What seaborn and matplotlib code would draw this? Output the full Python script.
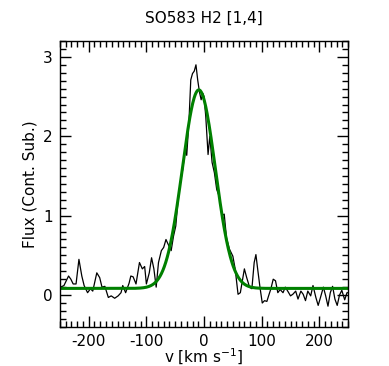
import numpy as np
import pandas as pd
import matplotlib
matplotlib.use("Agg")
import matplotlib.pyplot as plt
import seaborn as sns
from matplotlib.ticker import MultipleLocator

# Spectre (vitesse en km/s, flux soustrait du continu)
velocity = [-255, -249, -243, -235, -231, -227, -222, -217, -212, -208, -202, -197, -193,
            -186, -181, -177, -172, -166, -161, -155, -149, -144, -141, -136, -130, -127,
            -123, -118, -112, -107, -103, -100, -95, -91, -87, -83, -79, -74, -70, -66,
            -61, -57, -53, -49, -46, -42, -37, -32, -30, -26, -23, -20, -17, -14, -11,
            -8, -5, -2, 0, 3, 7, 10, 14, 18, 22, 27, 31, 35, 39, 44, 50, 54, 59, 63, 66,
            70, 74, 79, 83, 87, 90, 93, 97, 101, 105, 109, 112, 116, 120, 124, 128, 132,
            137, 141, 146, 150, 154, 159, 163, 168, 172, 176, 180, 185, 189, 194, 198,
            202, 207, 211, 215, 219, 223, 227, 231, 235, 239, 244, 248, 255]
flux = [0.10, 0.10, 0.12, 0.24, 0.20, 0.14, 0.14, 0.45, 0.24, 0.12, 0.03, 0.08, 0.05,
        0.28, 0.22, 0.10, 0.11, -0.03, -0.01, -0.04, -0.01, 0.03, 0.12, 0.03, 0.15, 0.24,
        0.23, 0.14, 0.41, 0.33, 0.36, 0.14, 0.28, 0.47, 0.33, 0.10, 0.41, 0.56, 0.60,
        0.70, 0.62, 0.56, 0.74, 0.87, 1.12, 1.37, 1.58, 1.87, 1.76, 2.21, 2.71, 2.79,
        2.82, 2.90, 2.71, 2.56, 2.46, 2.54, 2.50, 2.25, 1.77, 2.00, 1.67, 1.54, 1.33,
        1.23, 1.00, 1.02, 0.72, 0.58, 0.49, 0.33, 0.01, 0.03, 0.16, 0.33, 0.22, 0.10,
        0.08, 0.41, 0.51, 0.33, 0.10, -0.10, -0.07, -0.08, -0.01, 0.08, 0.20, 0.18,
        0.03, 0.07, 0.03, 0.10, 0.04, -0.01, 0.01, 0.05, -0.05, 0.05, 0.01, -0.07,
        0.05, -0.01, 0.12, -0.03, -0.13, -0.03, 0.10, -0.01, -0.14, 0.03, 0.11, -0.05,
        -0.13, 0.00, 0.06, -0.06, 0.03, 0.03]

fit_amplitude = 2.50
fit_center = -9.0
fit_sigma = 28.5
fit_baseline = 0.084

df_spec = pd.DataFrame({"v": velocity, "flux": flux})
v_fit = np.linspace(-250, 250, 600)
df_fit = pd.DataFrame({
    "v": v_fit,
    "flux": fit_baseline + fit_amplitude * np.exp(-0.5 * ((v_fit - fit_center) / fit_sigma) ** 2),
})

sns.set_style("white")
plt.rcParams["font.family"] = ["DejaVu Sans"]
plt.rcParams["axes.unicode_minus"] = False
plt.rcParams["text.color"] = "black"
plt.rcParams["axes.labelcolor"] = "black"

fig = plt.figure(figsize=(3.89, 3.66), dpi=100)
ax = fig.add_axes([0.154, 0.107, 0.741, 0.781])

sns.lineplot(data=df_spec, x="v", y="flux", color="black", linewidth=0.9, ax=ax)
sns.lineplot(data=df_fit, x="v", y="flux", color="#008000", linewidth=2.2, ax=ax)

ax.set_xlim(-250, 250)
ax.set_ylim(-0.4, 3.2)
ax.xaxis.set_major_locator(MultipleLocator(100))
ax.xaxis.set_minor_locator(MultipleLocator(10))
ax.yaxis.set_major_locator(MultipleLocator(1))
ax.yaxis.set_minor_locator(MultipleLocator(0.1))
ax.tick_params(which="both", direction="in", top=True, right=True, bottom=True, left=True,
               labelsize=11, colors="black")
ax.tick_params(which="major", length=8, width=1, pad=5)
ax.tick_params(which="minor", length=4, width=1)
for spine in ax.spines.values():
    spine.set_color("black")
    spine.set_linewidth(1)

ax.set_title("SO583 H2 [1,4]", fontsize=11, pad=13, color="black")
ax.set_xlabel("v [km s$^{-1}$]", fontsize=11, labelpad=-1, color="black")
ax.set_ylabel("Flux (Cont. Sub.)", fontsize=11, labelpad=4, color="black")

fig.savefig("out.png", dpi=100)
